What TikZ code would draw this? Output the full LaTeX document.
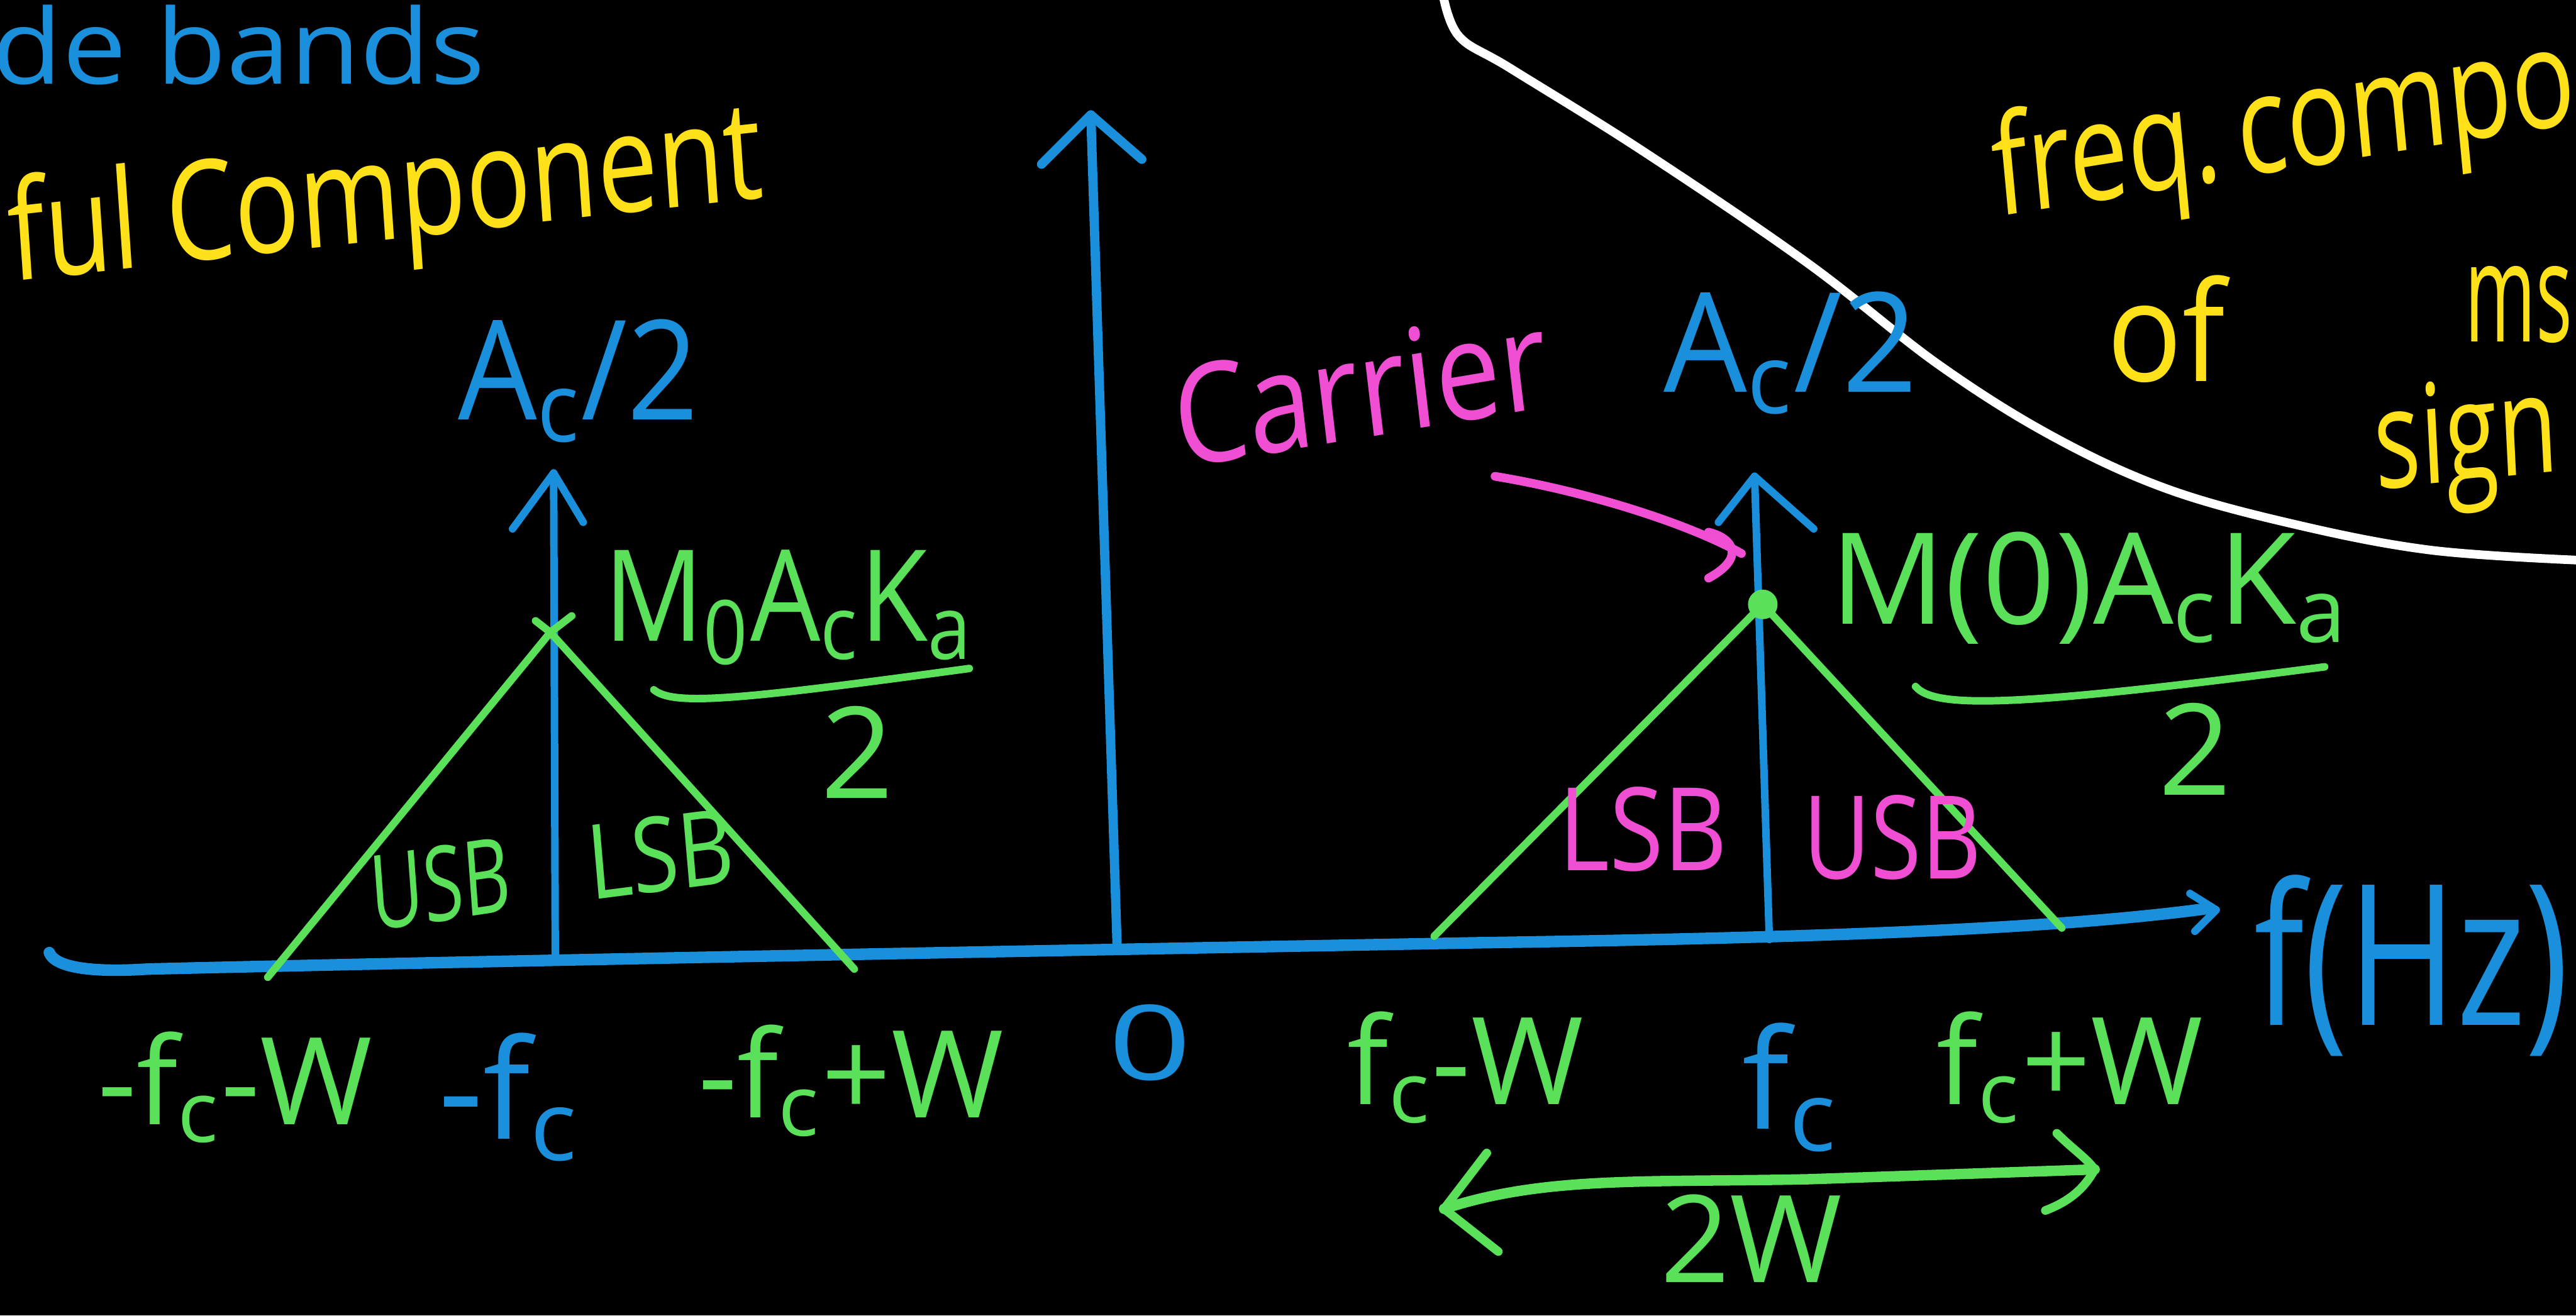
\documentclass[tikz,border=0pt]{standalone}
\usepackage{fontspec}
\setmainfont{Open Sans}
\definecolor{cblue}{HTML}{1A8FDB}
\definecolor{cgreen}{HTML}{5BE05A}
\definecolor{cyellow}{HTML}{FFE11A}
\definecolor{cmag}{HTML}{F04FD3}
\newcommand{\fsz}[1]{\fontsize{#1}{#1}\selectfont}
\begin{document}
\begin{tikzpicture}[x=0.01cm,y=-0.01cm,
  axisline/.style={draw=cblue, line width=2pt, line cap=round, line join=round},
  spike/.style={draw=cblue, line width=1.3pt, line cap=round, line join=round},
  grline/.style={draw=cgreen, line width=1.3pt, line cap=round, line join=round},
  magline/.style={draw=cmag, line width=1.5pt, line cap=round, line join=round},
  wline/.style={draw=white, line width=1.5pt, line cap=round},
  txt/.style={inner sep=0pt, font=\fsz{20}},
]
\fill[black] (0,0) rectangle (1568,801);
\useasboundingbox (0,0) rectangle (1568,801);
\clip (0,0) rectangle (1568,801);

% ---------- top-left notes ----------
\node[txt, text=cblue, font=\fsz{18}, xscale=1.1, anchor=base east] (sb) at (296,51) {de bands};
\node[txt, text=cyellow, font=\fsz{24}, xscale=0.78, rotate=5, anchor=base east] (uc) at (466,120) {ful Component};

% ---------- top-right note ----------
\draw[wline] plot[smooth, tension=0.6] coordinates {(878,-5) (888,22) (920,42) (1000,92) (1100,160) (1180,222) (1250,266) (1320,298) (1400,320) (1480,335) (1568,341)};
\node[txt, text=cyellow, font=\fsz{24}, xscale=0.76, rotate=7, anchor=base west] (fc) at (1215,132) {freq.\,compo};
\node[txt, text=cyellow, font=\fsz{24}, xscale=0.9, anchor=base west] (of) at (1282,232) {of};
\node[txt, text=cyellow, font=\fsz{24}, xscale=0.55, anchor=base west] (msg) at (1500,208) {ms};
\node[txt, text=cyellow, font=\fsz{24}, xscale=0.7, rotate=4, anchor=base west] (sig) at (1446,298) {sign};

% ---------- axes ----------
\coordinate (axL) at (32,588);
\coordinate (axR) at (1345,553);
\draw[axisline] (30,580) .. controls (34,590) and (60,592) .. (90,590)
  .. controls (300,585) and (680,578) .. (900,574)
  .. controls (1100,571) and (1250,566) .. (axR);
\draw[spike] (1333,544) -- (1349,554) -- (1336,567);
\node[txt, text=cblue, font=\fsz{34}, xscale=0.75] (fhz) at (1468,588) {f(Hz)};

\coordinate (o) at (680,577);
\coordinate (otop) at (664,70);
\draw[spike, line width=1.6pt] (o) -- (otop);
\draw[spike, line width=1.6pt] (634,100) -- (otop) -- (695,97);

% left spike
\coordinate (lb) at (338,585);
\coordinate (lt) at (337,288);
\draw[spike] (lb) -- (lt);
\draw[spike] (312,322) -- (lt) -- (355,318);

% right spike
\coordinate (rb) at (1077,572);
\coordinate (rt) at (1068,290);
\draw[spike] (rb) -- (rt);
\draw[spike] (1046,318) -- (rt) -- (1104,322);

% ---------- triangles ----------
\coordinate (l1) at (163,595);
\coordinate (lap) at (335,385);
\coordinate (l2) at (520,590);
\draw[grline] (l1) -- (lap) -- (l2);
\draw[grline] (lap) -- (348,375);
\draw[grline] (326,378) -- (lap);

\coordinate (r1) at (873,570);
\coordinate (rap) at (1073,368);
\coordinate (r2) at (1255,565);
\draw[grline] (r1) -- (rap) -- (r2);
\fill[cgreen] (rap) circle (9);

% ---------- amplitude labels ----------
\node[txt, text=cblue, font=\fsz{24}, xscale=0.9] (acl) at (352,232) {A\textsubscript{c}/2};
\node[txt, text=cblue, font=\fsz{24}, xscale=0.95] (acr) at (1090,215) {A\textsubscript{c}/2};

\node[txt, text=cgreen, font=\fsz{22}, xscale=0.87] (mlnum) at (480,370) {M\textsubscript{0}A\textsubscript{c}K\textsubscript{a}};
\draw[grline] (398,420) .. controls (410,430) and (450,426) .. (590,407);
\node[txt, text=cgreen, font=\fsz{22}] (mlden) at (522,458) {2};

\node[txt, text=cgreen, font=\fsz{22}] (mrnum) at (1272,358) {M(0)A\textsubscript{c}K\textsubscript{a}};
\draw[grline] (1166,418) .. controls (1178,432) and (1230,430) .. (1415,406);
\node[txt, text=cgreen, font=\fsz{22}] (mrden) at (1336,456) {2};

% ---------- band labels ----------
\node[txt, text=cgreen, font=\fsz{18}, xscale=0.7, rotate=6] (lusb) at (268,538) {USB};
\node[txt, text=cgreen, font=\fsz{18}, xscale=0.82, rotate=6] (llsb) at (402,520) {LSB};
\node[txt, text=cmag, font=\fsz{20}, xscale=0.85] (rlsb) at (1000,505) {LSB};
\node[txt, text=cmag, font=\fsz{20}, xscale=0.8] (rusb) at (1152,510) {USB};

% ---------- carrier ----------
\node[txt, text=cmag, font=\fsz{24}, xscale=0.84, rotate=8] (car) at (828,236) {Carrier};
\coordinate (cs) at (910,290);
\coordinate (ce) at (1060,337);
\draw[magline] (cs) .. controls (970,300) and (1030,320) .. (ce);
\draw[magline] (1040,324) .. controls (1056,328) and (1062,340) .. (1040,352);

% ---------- tick labels ----------
\node[txt, text=cgreen, font=\fsz{21}] (t1) at (143,662) {-f\textsubscript{c}-W};
\node[txt, text=cblue, font=\fsz{24}] (t2) at (310,668) {-f\textsubscript{c}};
\node[txt, text=cgreen, font=\fsz{21}] (t3) at (518,658) {-f\textsubscript{c}+W};
\node[txt, text=cblue, font=\fsz{18}, xscale=1.4] (t4) at (700,635) {0};
\node[txt, text=cgreen, font=\fsz{21}] (t5) at (892,650) {f\textsubscript{c}-W};
\node[txt, text=cblue, font=\fsz{24}] (t6) at (1090,662) {f\textsubscript{c}};
\node[txt, text=cgreen, font=\fsz{21}] (t7) at (1260,650) {f\textsubscript{c}+W};

% ---------- 2W arrow ----------
\coordinate (wl) at (879,736);
\coordinate (wr) at (1275,712);
\draw[grline, line width=1.8pt] (wl) .. controls (940,716) and (1000,720) .. (1100,718) -- (wr);
\draw[grline, line width=1.5pt] (905,702) -- (wl) -- (912,762);
\draw[grline, line width=1.5pt] (1252,690) .. controls (1262,700) and (1270,705) .. (wr) .. controls (1268,725) and (1258,732) .. (1245,737);
\node[txt, text=cgreen, font=\fsz{21}] (tw) at (1066,754) {2W};
\end{tikzpicture}
\end{document}
